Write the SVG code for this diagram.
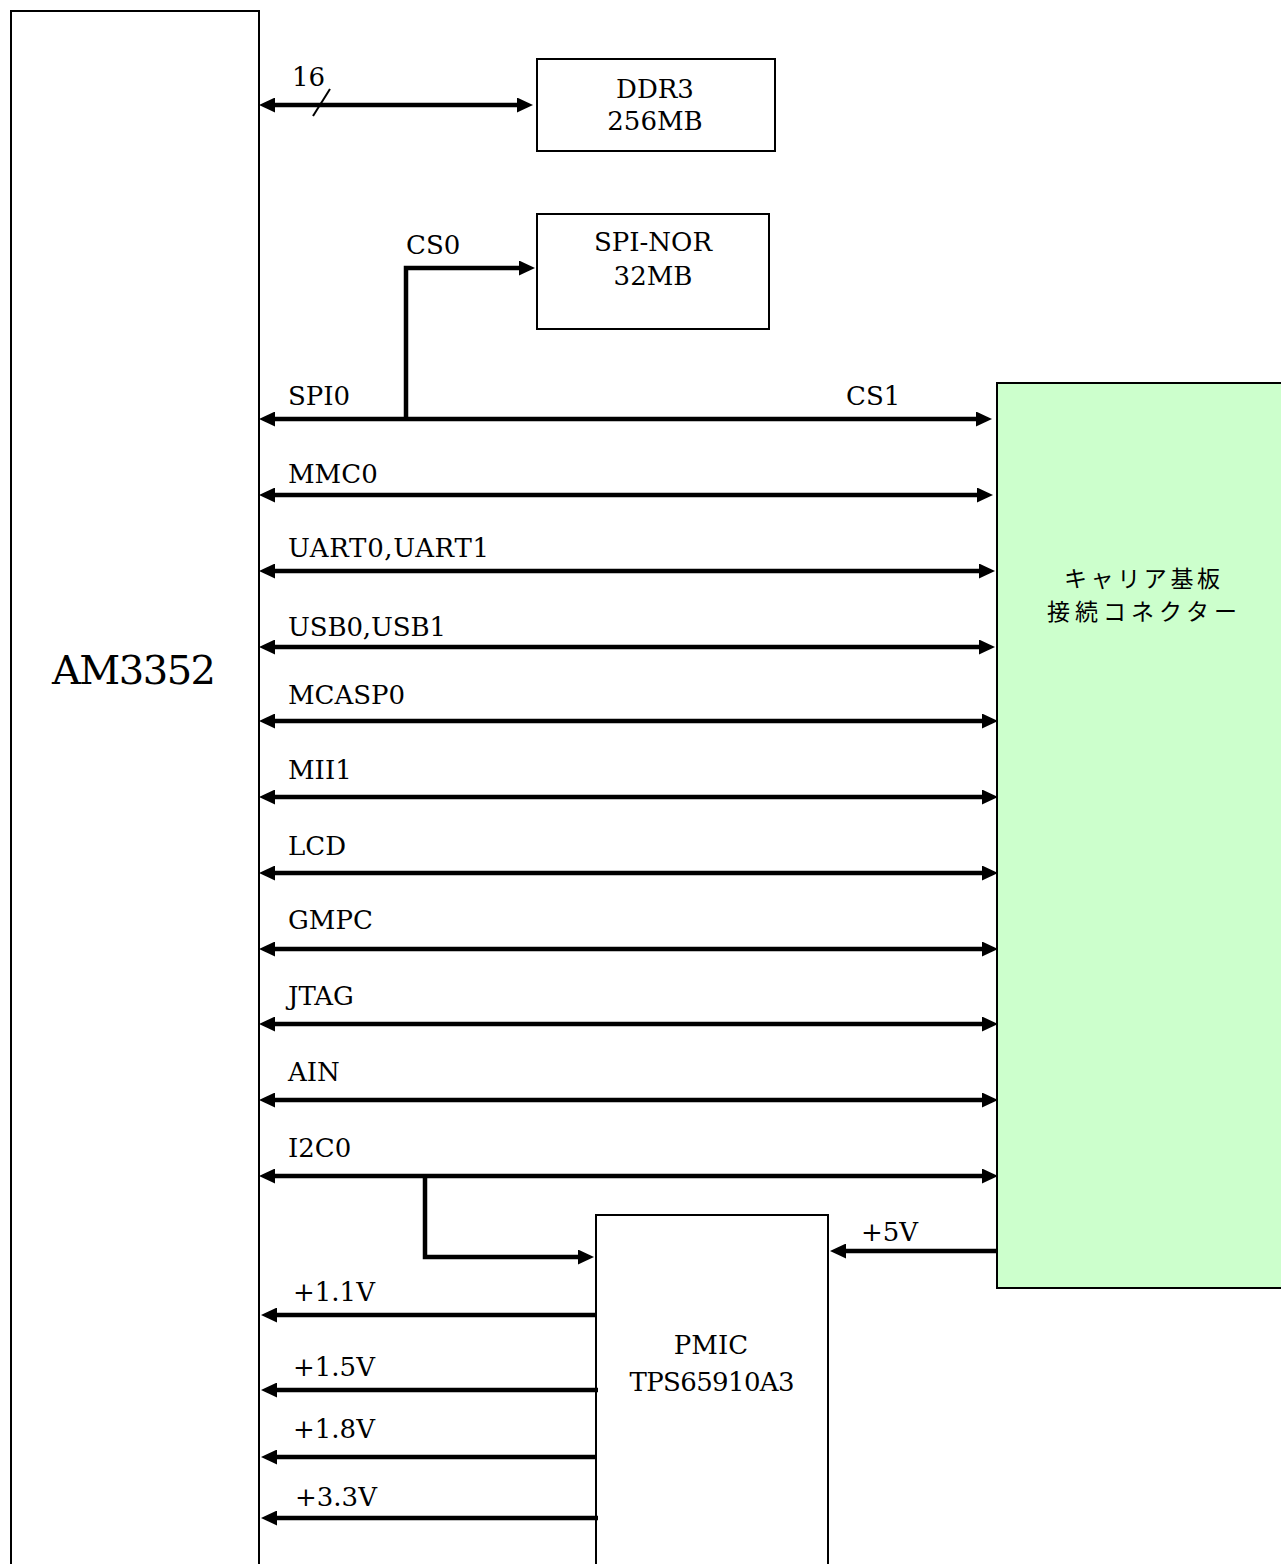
<svg xmlns="http://www.w3.org/2000/svg" width="1281" height="1564" viewBox="0 0 1281 1564">
<style>
.box{fill:#fff;stroke:#000;stroke-width:2}
.conn{fill:#ccffcc;stroke:#000;stroke-width:2}
.w{fill:none;stroke:#000;stroke-width:4.5}
.t{font-family:"DejaVu Serif","Liberation Serif",serif;font-size:26px;fill:#000}
.big{font-size:40px}
.c{text-anchor:middle}
.jp{font-family:"Noto Sans CJK JP",sans-serif;font-size:23px;fill:#000;text-anchor:middle}
</style>
<defs>
<marker id="ah" viewBox="0 0 16 15" markerWidth="16" markerHeight="15" refX="8" refY="7.5" orient="auto-start-reverse" markerUnits="userSpaceOnUse">
<path d="M0,0 L16,7.5 L0,15 z" fill="#000"/>
</marker>
</defs>
<g id="am3352">
<rect class="box" x="11" y="11" width="248" height="1600"/>
<text class="t big" x="52" y="684" textLength="164">AM3352</text>
</g>
<g id="ddr3">
<rect class="box" x="537" y="59" width="238" height="92"/>
<text class="t c" x="655" y="98">DDR3</text>
<text class="t c" x="655" y="130">256MB</text>
</g>
<g id="spinor">
<rect class="box" x="537" y="214" width="232" height="115"/>
<text class="t c" x="653" y="251">SPI-NOR</text>
<text class="t c" x="653" y="285">32MB</text>
</g>
<g id="connector">
<rect class="conn" x="997" y="383" width="300" height="905"/>
<text class="jp" x="1142" y="587" textLength="156">キャリア基板</text>
<text class="jp" x="1142" y="620" textLength="190">接続コネクター</text>
</g>
<g id="pmic">
<rect class="box" x="596" y="1215" width="232" height="400"/>
<text class="t c" x="711" y="1354">PMIC</text>
<text class="t c" x="712" y="1391" textLength="165">TPS65910A3</text>
</g>
<g id="connectors">
<line class="w" x1="267" y1="105" x2="525" y2="105" marker-start="url(#ah)" marker-end="url(#ah)"/>
<line x1="313" y1="116" x2="330" y2="89" stroke="#000" stroke-width="2"/>
<line class="w" x1="267" y1="419" x2="984" y2="419" marker-start="url(#ah)" marker-end="url(#ah)"/>
<polyline class="w" points="406,419 406,268 527,268" marker-end="url(#ah)"/>
<line class="w" x1="267" y1="495" x2="985" y2="495" marker-start="url(#ah)" marker-end="url(#ah)"/>
<line class="w" x1="267" y1="571" x2="987" y2="571" marker-start="url(#ah)" marker-end="url(#ah)"/>
<line class="w" x1="267" y1="647" x2="987" y2="647" marker-start="url(#ah)" marker-end="url(#ah)"/>
<line class="w" x1="267" y1="721" x2="990" y2="721" marker-start="url(#ah)" marker-end="url(#ah)"/>
<line class="w" x1="267" y1="797" x2="990" y2="797" marker-start="url(#ah)" marker-end="url(#ah)"/>
<line class="w" x1="267" y1="873" x2="990" y2="873" marker-start="url(#ah)" marker-end="url(#ah)"/>
<line class="w" x1="267" y1="949" x2="990" y2="949" marker-start="url(#ah)" marker-end="url(#ah)"/>
<line class="w" x1="267" y1="1024" x2="990" y2="1024" marker-start="url(#ah)" marker-end="url(#ah)"/>
<line class="w" x1="267" y1="1100" x2="990" y2="1100" marker-start="url(#ah)" marker-end="url(#ah)"/>
<line class="w" x1="267" y1="1176" x2="990" y2="1176" marker-start="url(#ah)" marker-end="url(#ah)"/>
<polyline class="w" points="425,1176 425,1257 586,1257" marker-end="url(#ah)"/>
<line class="w" x1="997" y1="1251" x2="838" y2="1251" marker-end="url(#ah)"/>
<line class="w" x1="596" y1="1315" x2="269" y2="1315" marker-end="url(#ah)"/>
<line class="w" x1="598" y1="1390" x2="269" y2="1390" marker-end="url(#ah)"/>
<line class="w" x1="596" y1="1457" x2="269" y2="1457" marker-end="url(#ah)"/>
<line class="w" x1="598" y1="1518" x2="269" y2="1518" marker-end="url(#ah)"/>
</g>
<g id="labels">
<text class="t" x="292" y="86">16</text>
<text class="t" x="406" y="254">CS0</text>
<text class="t" x="288" y="405">SPI0</text>
<text class="t" x="846" y="405">CS1</text>
<text class="t" x="288" y="483">MMC0</text>
<text class="t" x="288" y="557" textLength="201">UART0,UART1</text>
<text class="t" x="288" y="636" textLength="158">USB0,USB1</text>
<text class="t" x="288" y="704" textLength="117">MCASP0</text>
<text class="t" x="288" y="779">MII1</text>
<text class="t" x="288" y="855">LCD</text>
<text class="t" x="288" y="929">GMPC</text>
<text class="t" x="288" y="1005">JTAG</text>
<text class="t" x="288" y="1081">AIN</text>
<text class="t" x="288" y="1157">I2C0</text>
<text class="t" x="861" y="1241">+5V</text>
<text class="t" x="293" y="1301">+1.1V</text>
<text class="t" x="293" y="1376">+1.5V</text>
<text class="t" x="293" y="1438">+1.8V</text>
<text class="t" x="295" y="1506">+3.3V</text>
</g>
</svg>
